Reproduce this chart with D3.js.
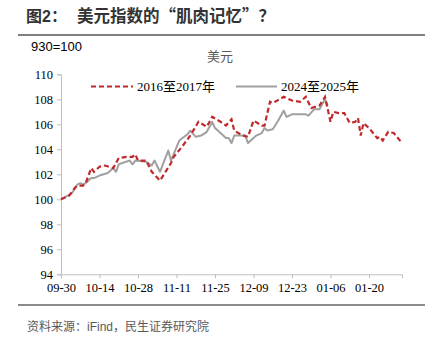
<!DOCTYPE html>
<html><head><meta charset="utf-8">
<script src="https://cdn.jsdelivr.net/npm/d3@7/dist/d3.min.js"></script>
<style>body{margin:0;background:#fff}svg{display:block}</style>
</head><body>
<svg id="c" width="432" height="343"></svg>
<script>
// ---- data ----
const tickLabels = ["09-30","10-14","10-28","11-11","11-25","12-09","12-23","01-06","01-20"];
const yTicks = [94,96,98,100,102,104,106,108,110];
const seriesNames = ["2016至2017年","2024至2025年"];
const dates2016 = ["09-30","10-03","10-05","10-06","10-08","10-09","10-11","10-12","10-14","10-16","10-19","10-21","10-24","10-26","10-27","10-28","10-31","11-02","11-05","11-07","11-09","11-10","11-13","11-16","11-19","11-22","11-24","11-27","11-29","12-01","12-02","12-05","12-07","12-09","12-12","12-13","12-15","12-16","12-20","12-23","12-26","12-28","12-30","01-02","01-04","01-06","01-07","01-09","01-11","01-13","01-15","01-16","01-17","01-18","01-20","01-23","01-24","01-25","01-27","01-29","02-01"];
const values2016 = [100.0,100.3,100.9,101.1,101.1,101.3,102.5,102.2,102.6,102.7,102.5,103.3,103.4,103.4,103.6,103.1,103.1,102.2,101.5,102.2,102.9,103.4,104.2,105.1,106.2,105.8,106.6,106.2,105.9,106.4,105.5,105.1,105.0,106.3,105.9,105.9,107.8,107.7,108.2,107.9,107.8,108.2,107.3,107.5,108.2,106.2,107.0,106.9,106.9,106.1,106.2,106.5,105.1,106.1,105.7,104.9,105.0,104.7,105.4,105.3,104.5];
const dates2024 = ["09-30","10-04","10-06","10-07","10-08","10-09","10-11","10-12","10-14","10-17","10-19","10-20","10-21","10-25","10-26","10-27","10-31","11-02","11-03","11-05","11-08","11-09","11-12","11-15","11-16","11-18","11-20","11-22","11-24","11-25","11-26","11-29","11-30","12-01","12-02","12-05","12-06","12-07","12-10","12-12","12-13","12-14","12-16","12-18","12-20","12-21","12-23","12-26","12-28","12-29","12-31","01-02","01-04","01-05"];
const values2024 = [100.0,100.5,101.2,101.3,101.2,101.3,101.7,101.7,101.9,102.1,102.5,102.2,102.8,103.1,102.8,103.1,103.0,102.7,103.1,102.2,103.9,103.1,104.7,105.2,105.5,105.0,105.1,105.4,106.2,105.7,105.5,104.9,104.9,104.5,105.1,105.1,105.1,104.5,105.1,105.3,105.7,105.5,105.6,106.3,107.1,106.6,106.8,106.8,106.8,106.7,107.2,107.2,108.0,107.5];
const domainDates = ["09-30","02-01"];

// ---- helpers ----
const parseMD = s => { const [m,d] = s.split("-").map(Number); return new Date(m >= 9 ? 2000 : 2001, m-1, d); };
const fmt = d3.timeFormat("%m-%d");

const svg = d3.select("#c");
const pLeft = 61, pRight = 402, pTop = 74.3, pBottom = 274.3;
const x = d3.scaleTime().domain(domainDates.map(parseMD)).range([pLeft, pRight]);
const y = d3.scaleLinear().domain([94,110]).range([pBottom, pTop]);

const serif = "'Liberation Serif','Times New Roman','Noto Sans CJK SC',serif";
const sans = "'Liberation Sans',Arial,'Noto Sans CJK SC',sans-serif";
const cjk = "'Noto Sans CJK SC','Liberation Sans',sans-serif";

// title
svg.append("text").attr("x",26).attr("y",22).attr("font-family",sans).attr("font-weight","bold")
  .attr("font-size",16).attr("fill","#333").text("图2：");
svg.append("text").attr("x",77).attr("y",22).attr("font-family",cjk).attr("font-weight","bold")
  .attr("font-size",16.5).attr("fill","#333").text("美元指数的“肌肉记忆”？");
svg.append("line").attr("x1",18).attr("x2",425).attr("y1",35).attr("y2",35).attr("stroke","#555").attr("stroke-width",1.5);

svg.append("text").attr("x",31).attr("y",51).attr("font-family",sans).attr("font-size",13).attr("fill","#000").text("930=100");
svg.append("text").attr("x",220).attr("y",61).attr("text-anchor","middle").attr("font-family",sans).attr("font-size",13).attr("fill","#595959").text("美元");

// axes
const yAxis = d3.axisLeft(y).tickValues(yTicks).tickSize(4).tickPadding(4).tickFormat(d3.format("d"));
const gy = svg.append("g").attr("transform",`translate(${pLeft},0)`).call(yAxis);
const xAxis = d3.axisBottom(x).tickValues(tickLabels.map(parseMD)).tickSize(4).tickPadding(5).tickFormat(fmt);
const gx = svg.append("g").attr("transform",`translate(0,${pBottom})`).call(xAxis);
[gx,gy].forEach(g=>{
  g.select(".domain").attr("stroke","#bfbfbf").attr("stroke-width",1);
  g.selectAll(".tick line").attr("stroke","#bfbfbf");
  g.selectAll(".tick text").attr("font-family",serif).attr("font-size",12.5).attr("fill","#000");
});

// lines
const line = d3.line().x(d=>x(d[0])).y(d=>y(d[1]));
const grey = dates2024.map((d,i)=>[parseMD(d),values2024[i]]);
const red = dates2016.map((d,i)=>[parseMD(d),values2016[i]]);
svg.append("path").datum(grey).attr("d",line).attr("fill","none").attr("stroke","#a0a0a0").attr("stroke-width",2).attr("stroke-linejoin","round");
svg.append("path").datum(red).attr("d",line).attr("fill","none").attr("stroke","#c0282a").attr("stroke-width",2.2).attr("stroke-dasharray","5,3");

// legend
svg.append("line").attr("x1",91).attr("x2",133).attr("y1",86.5).attr("y2",86.5).attr("stroke","#c0282a").attr("stroke-width",2.2).attr("stroke-dasharray","5,3");
svg.append("text").attr("x",137).attr("y",91).attr("font-family",serif).attr("font-size",13).attr("fill","#000").text(seriesNames[0]);
svg.append("line").attr("x1",236).attr("x2",277).attr("y1",86.5).attr("y2",86.5).attr("stroke","#a0a0a0").attr("stroke-width",2);
svg.append("text").attr("x",281).attr("y",91).attr("font-family",serif).attr("font-size",13).attr("fill","#000").text(seriesNames[1]);

// footer
svg.append("line").attr("x1",18).attr("x2",425).attr("y1",305).attr("y2",305).attr("stroke","#666").attr("stroke-width",1.5);
svg.append("text").attr("x",27).attr("y",331).attr("font-family",sans).attr("font-size",12).attr("fill","#595959").text("资料来源：iFind，民生证券研究院");
</script>
</body></html>
